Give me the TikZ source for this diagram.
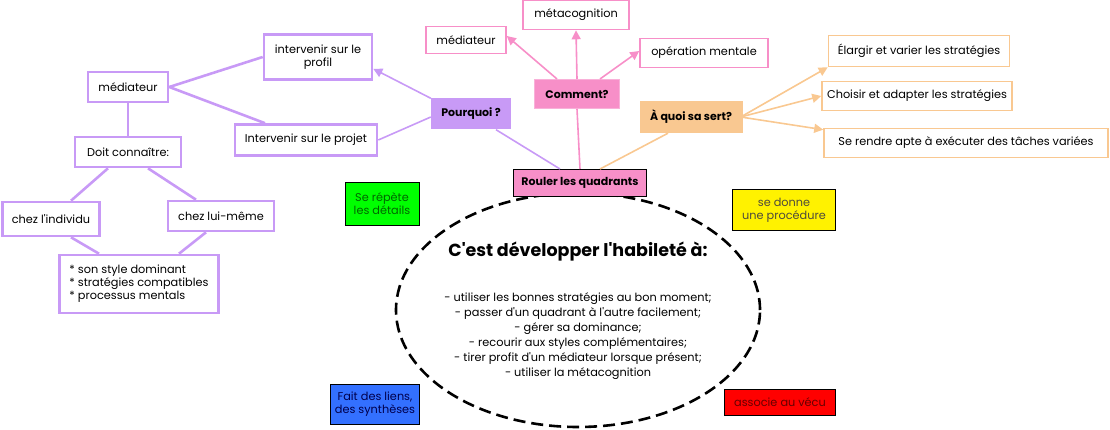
\documentclass[tikz,border=0pt]{standalone}
\usepackage{fontspec}
\setmainfont{Poppins}[Ligatures=TeXOff]
\usetikzlibrary{arrows.meta,shapes.geometric}
\definecolor{lilas}{HTML}{C89AF6}
\definecolor{rose}{HTML}{F78FC8}
\definecolor{peche}{HTML}{F9C891}
\tikzset{gbox/.style={
    rectangle,
    draw,
    fill=white,
    font=\fontsize{11.3}{13}\selectfont,
    align=center,
    inner sep=0pt
  },
  lbox/.style={gbox,draw=lilas,line width=2.6pt},
  pbox/.style={gbox,draw=rose,line width=1.6pt},
  obox/.style={gbox,draw=peche,line width=1.6pt},
  qbox/.style={gbox,draw=none,font=\bfseries\fontsize{11}{13}\selectfont},
  cbox/.style={gbox,line width=1pt},
  lline/.style={draw=lilas,line width=2.6pt},
  larrow/.style={draw=lilas,line width=1.6pt,-{Triangle[length=9pt,width=9pt]}},
  parrow/.style={draw=rose,line width=1.6pt,-{Triangle[length=9pt,width=9pt]}},
  oarrow/.style={draw=peche,line width=1.6pt,-{Triangle[length=9pt,width=9pt]}},
}
\begin{document}
\begin{tikzpicture}[x=1pt,y=-1pt]
  \useasboundingbox (0,0) rectangle (1110,430);
  \node [cbox,dashed,ellipse,line width=2.6pt,dash pattern=on 12pt off 6pt,
    minimum width=364,minimum height=234] (ell) at (578,310) {};
  \node [lbox,minimum width=80,minimum height=30] (med) at (128,87) {médiateur};
  \node [lbox,minimum width=108,minimum height=45] (profil) at (318,57) {intervenir sur le\\ profil};
  \node [lbox,minimum width=142,minimum height=31] (projet) at (306,140) {Intervenir sur le projet};
  \node [lbox,minimum width=106,minimum height=30] (doit) at (128,152) {Doit connaître:};
  \node [lbox,minimum width=97,minimum height=34] (indiv) at (51,219) {chez l'individu};
  \node [lbox,minimum width=106,minimum height=30] (luimeme) at (221,216) {chez lui-même};
  \node [lbox,minimum width=159,minimum height=58,align=left] (liste) at (139,284)
    {* son style dominant\\ * stratégies compatibles\\ * processus mentals};
  \node [qbox,fill=lilas,minimum width=80,minimum height=31] (pourquoi) at (471,114) {Pourquoi ?};
  \node [qbox,fill=rose,draw=rose!70,line width=1pt,minimum width=85,minimum height=29] (comment) at (577,94) {Comment?};
  \node [pbox,minimum width=80,minimum height=27] (med2) at (466,40) {médiateur};
  \node [pbox,minimum width=106,minimum height=29] (meta) at (576,15) {métacognition};
  \node [pbox,minimum width=128,minimum height=29] (oper) at (704,53) {opération mentale};
  \node [qbox,fill=peche,minimum width=103,minimum height=32] (aquoi) at (691,117) {À quoi sa sert?};
  \node [obox,minimum width=181,minimum height=31] (elargir) at (919,51) {Élargir et varier les stratégies};
  \node [obox,minimum width=190,minimum height=29] (choisir) at (917,96) {Choisir et adapter les stratégies};
  \node [obox,minimum width=284,minimum height=29] (rendre) at (966,143) {Se rendre apte à exécuter des tâches variées};
  \node [cbox,fill=rose,font=\bfseries\fontsize{11}{13}\selectfont,minimum width=133,minimum height=27] (rouler) at (580,183) {Rouler les quadrants};
  \node [cbox,fill=green,text=green!40!black,minimum width=74,minimum height=43] (repete) at (382,204) {Se répète\\ les détails};
  \node [cbox,fill=yellow,text=black!80!yellow,minimum width=103,minimum height=41] (procedure) at (784,210) {se donne\\ une procédure};
  \node [cbox,fill=blue!70!cyan!80,text=blue!30!black,minimum width=89,minimum height=40] (liens) at (375,404) {Fait des liens,\\ des synthèses};
  \node [cbox,fill=red,text=red!40!black,minimum width=111,minimum height=26] (vecu) at (780,402) {associe au vécu};
  \node [font=\bfseries\fontsize{17.5}{20}\selectfont] (titre) at (578,252) {C'est développer l'habileté à:};
  \node [font=\fontsize{11.3}{15}\selectfont,align=center] (buts) at (578,336)
    {- utiliser les bonnes stratégies au bon moment;\\
     - passer d'un quadrant à l'autre facilement;\\
     - gérer sa dominance;\\
     - recourir aux styles complémentaires;\\
     - tirer profit d'un médiateur lorsque présent;\\
     - utiliser la métacognition};
  \draw[lline] (med.east) -- (profil.west);
  \draw[lline] (med.east) -- ([xshift=-41]projet.north);
  \draw[lline] (med) -- (doit);
  \draw[lline] ([xshift=-20]doit.south) -- ([xshift=20]indiv.north);
  \draw[lline] ([xshift=20]doit.south) -- ([xshift=-25]luimeme.north);
  \draw[lline] ([xshift=20]indiv.south) -- ([xshift=-40]liste.north);
  \draw[lline] ([xshift=-15]luimeme.south) -- ([xshift=40]liste.north);
  \draw[larrow] (pourquoi.north west) -- ([yshift=12]profil.south east);
  \draw[draw=lilas,line width=1.6pt] ([yshift=-3]pourquoi.west) -- (projet.east);
  \draw[draw=lilas,line width=1.6pt] ([xshift=-20]rouler.north) -- ([xshift=25]pourquoi.south);
  \draw[draw=rose,line width=1.6pt] (rouler.north) -- (comment.south);
  \draw[draw=peche,line width=1.6pt] ([xshift=20]rouler.north) -- ([xshift=-23]aquoi.south);
  \draw[parrow] ([xshift=-20]comment.north) -- ([yshift=4]med2.east);
  \draw[parrow] (comment.north) -- (meta.south);
  \draw[parrow] ([xshift=23]comment.north) -- ([yshift=2]oper.west);
  \draw[oarrow] ([xshift=-2]aquoi.east) -- (elargir.south west);
  \draw[oarrow] ([xshift=-2]aquoi.east) -- (choisir.west);
  \draw[oarrow] ([xshift=-2]aquoi.east) -- ([yshift=-2]rendre.north west);
\end{tikzpicture}
\end{document}
